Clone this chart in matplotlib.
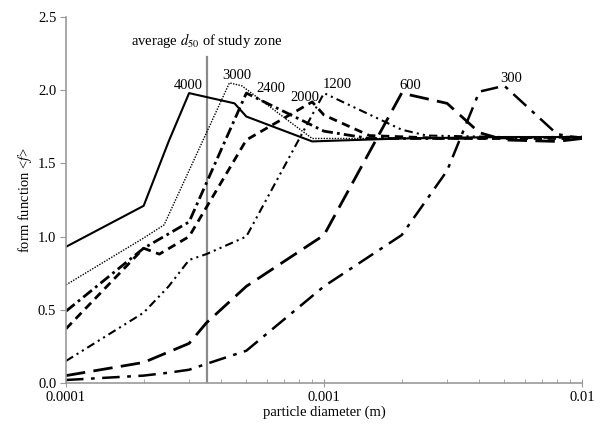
#!/usr/bin/env python3
import matplotlib

matplotlib.use("Agg", force=True)
import matplotlib.pyplot as plt
from matplotlib.ticker import FixedLocator, FuncFormatter, LogLocator, NullFormatter

plt.rcParams["font.family"] = ["Liberation Serif", "DejaVu Serif"]
plt.rcParams["mathtext.fontset"] = "stix"

# particle diameter (m) and form function for each frequency (kHz)
x_4000 = [0.0001, 0.0002, 0.00025, 0.0003, 0.00045, 0.0005, 0.0009, 0.002, 0.005, 0.01]
y_4000 = [0.93, 1.21, 1.65, 1.98, 1.91, 1.82, 1.65, 1.67, 1.68, 1.68]

x_3000 = [0.0001, 0.0002, 0.00024, 0.00043, 0.00048, 0.0009, 0.002, 0.005, 0.01]
y_3000 = [0.67, 0.99, 1.08, 2.05, 2.03, 1.67, 1.67, 1.68, 1.68]

x_2400 = [0.0001, 0.0002, 0.0003, 0.0005, 0.001, 0.0015, 0.003, 0.01]
y_2400 = [0.49, 0.92, 1.10, 1.98, 1.72, 1.67, 1.67, 1.68]

x_2000 = [0.0001, 0.0002, 0.00023, 0.0003, 0.0005, 0.0009, 0.001, 0.0015, 0.003, 0.01]
y_2000 = [0.37, 0.92, 0.88, 1.00, 1.66, 1.92, 1.83, 1.69, 1.67, 1.67]

x_1200 = [0.0001, 0.0002, 0.00025, 0.0003, 0.00035, 0.0005, 0.001, 0.002, 0.0025, 0.005, 0.01]
y_1200 = [0.15, 0.48, 0.66, 0.84, 0.88, 1.00, 1.98, 1.73, 1.69, 1.68, 1.68]

x_600 = [0.0001, 0.0002, 0.0003, 0.00035, 0.0005, 0.001, 0.002, 0.003, 0.004, 0.005, 0.008, 0.01]
y_600 = [0.05, 0.14, 0.27, 0.41, 0.66, 1.01, 1.98, 1.91, 1.71, 1.66, 1.65, 1.67]

x_300 = [0.0001, 0.0002, 0.00025, 0.0003, 0.00035, 0.0005, 0.001, 0.002, 0.003, 0.004, 0.005, 0.008, 0.01]
y_300 = [0.02, 0.05, 0.07, 0.09, 0.13, 0.22, 0.66, 1.01, 1.45, 1.99, 2.03, 1.70, 1.67]

freq_labels = ["4000", "3000", "2400", "2000", "1200", "600", "300"]
label_x = [0.000297, 0.00046, 0.00062, 0.00084, 0.00113, 0.00216, 0.0053]
label_y = [2.03, 2.10, 2.01, 1.95, 2.04, 2.035, 2.08]

d50 = 0.000352
d50_top = 2.23

SERIES = [
    (x_4000, y_4000, "-", 1.5),
    (x_3000, y_3000, (0, (1, 1)), 1.0),
    (x_2400, y_2400, (0, (4, 1.5, 1, 1.5)), 2.0),
    (x_2000, y_2000, (0, (3, 2)), 2.0),
    (x_1200, y_1200, (0, (4, 2, 1, 2, 1, 2)), 1.5),
    (x_600, y_600, (0, (7, 3)), 2.0),
    (x_300, y_300, (0, (7, 3, 1.5, 3)), 1.8),
]


def main() -> None:
    fig = plt.figure(figsize=(6.0, 4.25), dpi=100)
    ax = fig.add_axes([0.11, 0.099, 0.86, 0.861])

    for xs, ys, ls, lw in SERIES:
        ax.plot(xs, ys, color="black", linestyle=ls, linewidth=lw)

    ax.plot([d50, d50], [0, d50_top], color="#8a8a8a", linewidth=1.6, zorder=1)
    ax.text(d50, 2.34, r"average $d_{50}$ of study zone", ha="center", va="center", fontsize=10.5)

    for lab, lx, ly in zip(freq_labels, label_x, label_y):
        ax.text(lx, ly, lab, ha="center", va="center", fontsize=10.5)

    ax.set_xscale("log")
    ax.set_xlim(0.0001, 0.01)
    ax.set_ylim(0, 2.5)
    ax.xaxis.set_major_locator(FixedLocator([0.0001, 0.001, 0.01]))
    ax.xaxis.set_major_formatter(FuncFormatter(lambda v, p: f"{v:g}"))
    ax.xaxis.set_minor_locator(LogLocator(base=10, subs=range(2, 10)))
    ax.xaxis.set_minor_formatter(NullFormatter())
    ax.set_yticks([0, 0.5, 1.0, 1.5, 2.0, 2.5])
    ax.yaxis.set_major_formatter(FuncFormatter(lambda v, p: f"{v:.1f}"))

    for side in ("top", "right"):
        ax.spines[side].set_visible(False)
    for side in ("left", "bottom"):
        ax.spines[side].set_color("#999999")
        ax.spines[side].set_linewidth(1.2)
    ax.tick_params(axis="y", which="major", direction="out", length=4, color="#999999", labelsize=10.5, pad=3)
    ax.tick_params(axis="x", which="major", direction="inout", length=6, color="#999999", labelsize=10.5, pad=3)
    ax.tick_params(axis="x", which="minor", direction="in", length=3, color="#999999")

    ax.set_xlabel("particle diameter (m)", fontsize=10.5, labelpad=1)
    ax.set_ylabel(r"form function <$f$>", fontsize=10.5, labelpad=3)

    fig.savefig("out.png", dpi=100)
    plt.close(fig)


if __name__ == "__main__":
    main()
